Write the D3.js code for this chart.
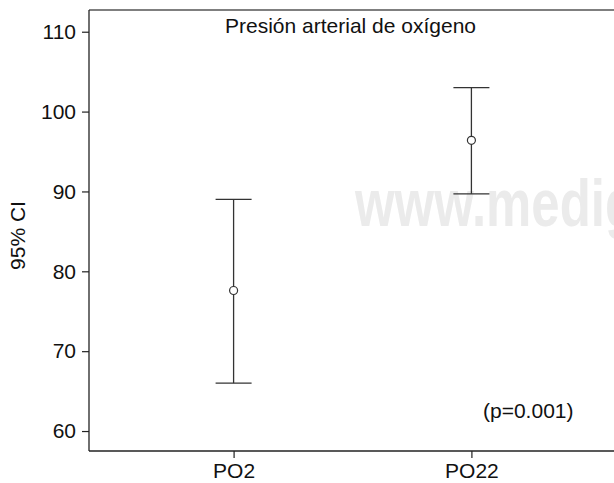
<!DOCTYPE html>
<html lang="es"><head>
<meta charset="utf-8">
<title>Presión arterial de oxígeno</title>
<script src="https://cdn.jsdelivr.net/npm/d3@7"></script>
<style>
  html, body { margin: 0; background: #fff; overflow: hidden; }
  svg { display: block; }
  text { font-family: "Liberation Sans", Arial, Helvetica, sans-serif; fill: #111; }
</style>
</head>
<body>
<script>
    // data
    var categories = ["PO2", "PO22"];
    var means = [77.6, 96.4];
    var lower = [66.0, 89.7];
    var upper = [89.0, 103.0];
    var yTicks = [60, 70, 80, 90, 100, 110];

    var width = 614;
    var height = 483;
    // plot box edges (note: "top" is reserved on window, so prefix them)
    var plotLeft = 89, plotRight = 616, plotTop = 10, plotBottom = 451;

    var svg = d3.select("body").append("svg")
    .attr("width", width)
    .attr("height", height);

    var x = d3.scalePoint().domain(categories).range([plotLeft, plotRight]).padding(0.608);
    var y = d3.scaleLinear().domain([57.5, 112.72]).range([plotBottom, plotTop]);

    // watermark behind everything
    svg.append("text")
    .attr("transform", "translate(355,226) scale(0.76,1)")
    .attr("font-size", 67)
    .attr("font-weight", "bold")
    .style("fill", "#ebebeb")
    .text("www.medigraphic");

    // frame top edge, the axes draw the left and bottom (box runs off the right side)
    svg.append("line")
    .attr("x1", plotLeft).attr("x2", plotRight + 10)
    .attr("y1", plotTop).attr("y2", plotTop)
    .attr("stroke", "#555")
    .attr("stroke-width", 1.3);

    var yAxis = svg.append("g")
    .attr("transform", "translate(" + plotLeft + ",0)")
    .call(d3.axisLeft(y).tickValues(yTicks).tickSize(7).tickPadding(6).tickSizeOuter(0));

    var xAxis = svg.append("g")
    .attr("transform", "translate(0," + plotBottom + ")")
    .call(d3.axisBottom(x).tickSize(7).tickPadding(5).tickSizeOuter(0));

    svg.selectAll(".domain")
    .attr("stroke", "#222")
    .attr("stroke-width", 1.3);
    yAxis.select(".domain").attr("d", "M0," + plotTop + "V" + plotBottom);
    xAxis.select(".domain").attr("d", "M" + plotLeft + ",0H" + (plotRight + 10));

    svg.selectAll(".tick line")
    .attr("stroke", "#222")
    .attr("stroke-width", 1.2);
    svg.selectAll(".tick text")
    .attr("font-size", 21)
    .attr("font-family", null)
    .style("fill", "#111");

    // y label
    svg.append("text")
    .attr("transform", "translate(25," + ((plotTop + plotBottom) / 2 + 5) + ") rotate(-90)")
    .attr("text-anchor", "middle")
    .attr("font-size", 21)
    .text("95% CI");

    svg.append("text")
    .attr("x", 225)
    .attr("y", 33)
    .attr("font-size", 21)
    .text("Presión arterial de oxígeno");

    svg.append("text")
    .attr("x", 483)
    .attr("y", 418)
    .attr("font-size", 21)
    .text("(p=0.001)");

    // error bars
    var bars = svg.append("g").selectAll("g")
    .data(categories).enter().append("g");

    bars.append("line")
    .attr("x1", function (d) { return x(d); })
    .attr("x2", function (d) { return x(d); })
    .attr("y1", function (d, i) { return y(upper[i]); })
    .attr("y2", function (d, i) { return y(lower[i]); })
    .attr("stroke", "#333")
    .attr("stroke-width", 1.3);

    [upper, lower].forEach(function (arr) {
        bars.append("line")
        .attr("x1", function (d) { return x(d) - 18; })
        .attr("x2", function (d) { return x(d) + 18; })
        .attr("y1", function (d, i) { return y(arr[i]); })
        .attr("y2", function (d, i) { return y(arr[i]); })
        .attr("stroke", "#333")
        .attr("stroke-width", 1.3);
    });

    bars.append("circle")
    .attr("cx", function (d) { return x(d); })
    .attr("cy", function (d, i) { return y(means[i]); })
    .attr("r", 4)
    .attr("fill", "#fff")
    .attr("stroke", "#333")
    .attr("stroke-width", 1.2);
</script>
</body></html>
